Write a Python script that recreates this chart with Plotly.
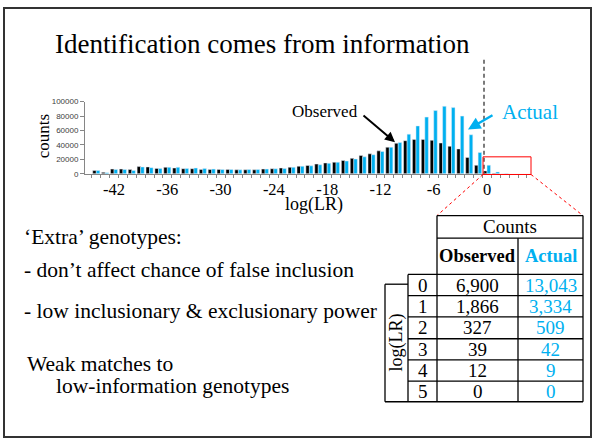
import plotly.graph_objects as go

# ---------------- data ----------------
log_lr = list(range(-44, 3))
observed = [4500, 2000, 6500, 6500, 6000, 10000, 9500, 7500, 9000, 8000,
            7000, 7000, 6000, 6000, 6000, 6000, 5500, 5500, 5500, 6500,
            7000, 8000, 9000, 10500, 11500, 13500, 15000, 16000, 18500, 21400,
            25500, 27700, 31800, 36800, 42300, 45900, 47700, 47700, 46400, 42700,
            38200, 34500, 22700, 11800, 4000, 600, 0]
actual = [4500, 1500, 6000, 6000, 4500, 9500, 8500, 7500, 9000, 9000,
          7500, 8000, 7500, 6500, 6000, 6000, 5500, 6000, 6000, 6500,
          7000, 7500, 9000, 10500, 11000, 12500, 14500, 16000, 17700, 20500,
          23500, 26400, 30900, 36800, 43400, 55000, 66400, 78600, 87700, 93600,
          91800, 80000, 54100, 29500, 12000, 2500, 300]
x_tick_vals = [-42, -36, -30, -24, -18, -12, -6, 0]
x_tick_text = ["-42", "-36", "-30", "-24", "-18", "-12", "-6", "0"]

table_rows = ["0", "1", "2", "3", "4", "5"]
table_observed = ["6,900", "1,866", "327", "39", "12", "0"]
table_actual = ["13,043", "3,334", "509", "42", "9", "0"]

# ---------------- styling ----------------
W, H = 593, 444
BLUE = "#00B0F0"
SERIF = "Liberation Serif"


def px(x):
    return x / W


def py(y):
    return 1 - y / H


fig = go.Figure()
fig.add_trace(go.Bar(x=log_lr, y=observed, marker_color="#000000", name="Observed"))
fig.add_trace(go.Bar(x=log_lr, y=actual, marker_color=BLUE, name="Actual"))

shapes = []
annotations = []

# slide border
shapes.append(dict(type="rect", xref="paper", yref="paper",
                   x0=px(4), x1=px(591), y0=py(442), y1=py(4),
                   line=dict(color="#333333", width=2)))

# dashed vertical line at log(LR)=0 boundary
shapes.append(dict(type="line", xref="paper", yref="paper",
                   x0=px(484), x1=px(484), y0=py(57), y1=py(173),
                   line=dict(color="#505050", width=1.5, dash="4px,3px")))

# red box & connectors
shapes.append(dict(type="rect", xref="paper", yref="paper",
                   x0=px(483), x1=px(531), y0=py(174), y1=py(156),
                   line=dict(color="#FF0000", width=1)))
shapes.append(dict(type="line", xref="paper", yref="paper",
                   x0=px(483), x1=px(437), y0=py(174), y1=py(216),
                   line=dict(color="#FF0000", width=1, dash="3px,3px")))
shapes.append(dict(type="line", xref="paper", yref="paper",
                   x0=px(531), x1=px(583), y0=py(174), y1=py(216),
                   line=dict(color="#FF0000", width=1, dash="3px,3px")))

# table lines
row_lines = [276, 297.7, 319.3, 341.7, 363.3, 385]


def hline(y, x0, x1):
    shapes.append(dict(type="line", xref="paper", yref="paper",
                       x0=px(x0), x1=px(x1), y0=py(y), y1=py(y),
                       line=dict(color="#000000", width=1.3)))


def vline(x, y0, y1):
    shapes.append(dict(type="line", xref="paper", yref="paper",
                       x0=px(x), x1=px(x), y0=py(y0), y1=py(y1),
                       line=dict(color="#000000", width=1.3)))


hline(216, 437, 583)
hline(239, 437, 583)
for yy in row_lines:
    hline(yy, 408, 583)
hline(406, 385, 583)
hline(286, 385, 408)
vline(437, 216, 406)
vline(518, 239, 406)
vline(583, 216, 406)
vline(408, 276, 406)
vline(385, 286, 406)


def text(x, y, s, size, color="#000000", anchor="center", bold=False, angle=0, family=SERIF):
    annotations.append(dict(xref="paper", yref="paper", x=px(x), y=py(y),
                            text=f"<b>{s}</b>" if bold else s, showarrow=False,
                            xanchor=anchor, yanchor="middle", textangle=angle,
                            font=dict(family=family, size=size, color=color)))


# title
text(262, 41, "Identification comes from information", 27)

# chart labels
text(43, 135, "counts", 17, angle=-90)
text(314, 205, "log(LR)", 18)
text(325, 110, "Observed", 17)
text(530, 110, "Actual", 21, color=BLUE)

# arrows
annotations.append(dict(xref="paper", yref="paper", x=px(395), y=py(141),
                        ax=-33, ay=-28, text="", showarrow=True,
                        arrowhead=2, arrowsize=1, arrowwidth=2, arrowcolor="#000000"))
annotations.append(dict(xref="paper", yref="paper", x=px(468), y=py(128),
                        ax=26, ay=-15, text="", showarrow=True,
                        arrowhead=2, arrowsize=1, arrowwidth=2.5, arrowcolor=BLUE))

# left text
text(22, 238, "‘Extra’ genotypes:", 21.5, anchor="left")
text(22, 272, "- don’t affect chance of false inclusion", 21.5, anchor="left")
text(22, 313, "- low inclusionary &amp; exclusionary power", 21.5, anchor="left")
text(25, 367, "Weak matches to", 21.5, anchor="left")
text(54, 390, "low-information genotypes", 21.5, anchor="left")

# table text
text(510, 227, "Counts", 19)
text(477.5, 257, "Observed", 18.5, bold=True)
text(550.5, 257, "Actual", 18.5, color=BLUE, bold=True)
text(396.5, 346, "log(LR)", 18, angle=-90)
bounds = [276] + row_lines[1:] + [406]
for i, (r, o, a) in enumerate(zip(table_rows, table_observed, table_actual)):
    yc = (bounds[i] + bounds[i + 1]) / 2
    text(422.5, yc, r, 19)
    text(477.5, yc, o, 19)
    text(550.5, yc, a, 19, color=BLUE)

x_lo, x_hi = -45.27, 5.0
fig.update_layout(
    width=W, height=H,
    margin=dict(l=0, r=0, t=0, b=0),
    paper_bgcolor="white", plot_bgcolor="white",
    barmode="group", bargap=0.2, bargroupgap=0.0,
    showlegend=False,
    shapes=shapes, annotations=annotations,
    xaxis=dict(domain=[px(85), px(531.4)], range=[x_lo, x_hi],
               tickmode="array", tickvals=x_tick_vals, ticktext=x_tick_text,
               ticks="", showgrid=False, zeroline=False,
               showline=True, linecolor="#868686", linewidth=1,
               tickfont=dict(family=SERIF, size=16.5, color="#000000"),
               ticklabelstandoff=0,
               minor=dict(tickmode="array", tickvals=[v + 0.5 for v in range(-45, 5)],
                          ticks="outside", ticklen=3, tickcolor="#868686", showgrid=False)),
    yaxis=dict(domain=[py(173.3), py(99.7)], range=[0, 100000],
               tickmode="linear", tick0=0, dtick=20000, tickformat="d",
               ticks="outside", ticklen=4, tickcolor="#868686",
               showgrid=False, zeroline=False,
               showline=True, linecolor="#868686", linewidth=1,
               tickfont=dict(family="Liberation Sans", size=8, color="#404040")),
)

fig.write_html("out.html",
               config={"displayModeBar": False},
               post_script="document.body.style.margin='0';document.body.style.overflow='hidden';")
